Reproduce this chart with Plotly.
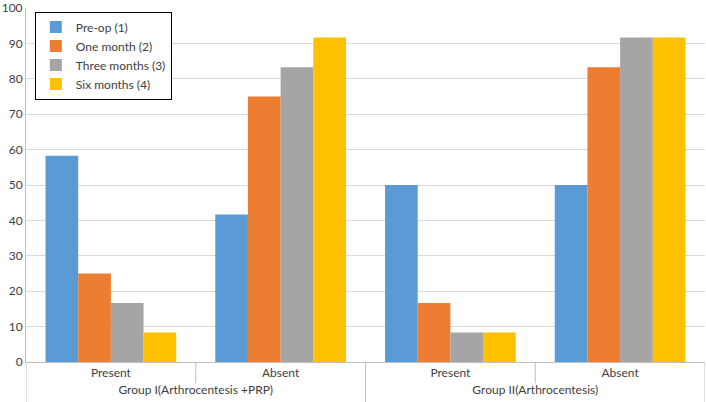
import plotly.graph_objects as go

groups = ["Group I(Arthrocentesis +PRP)", "Group I(Arthrocentesis +PRP)",
          "Group II(Arthrocentesis)", "Group II(Arthrocentesis)"]
status = ["Present", "Absent", "Present", "Absent"]

series_names = ["Pre-op (1)", "One month (2)", "Three months (3)", "Six months (4)"]
preop = [58.3, 41.7, 50.0, 50.0]
one_month = [25.0, 75.0, 16.7, 83.3]
three_months = [16.7, 83.3, 8.3, 91.7]
six_months = [8.3, 91.7, 8.3, 91.7]
colors = ["#5B9BD5", "#ED7D31", "#A5A5A5", "#FFC000"]

fig = go.Figure()
for name, vals, col in zip(series_names, [preop, one_month, three_months, six_months], colors):
    fig.add_trace(go.Bar(x=[groups, status], y=vals, name=name,
                         marker=dict(color=col, line=dict(width=0))))

grey = "#BFBFBF"
# Excel-style category dividers under the axis
for xv in [0.5, 2.5]:
    fig.add_shape(type="line", xref="x", yref="paper", x0=xv, x1=xv, y0=0, y1=-0.06,
                  line=dict(color=grey, width=1))
for xv in [-0.5, 1.5, 3.5]:
    fig.add_shape(type="line", xref="x", yref="paper", x0=xv, x1=xv, y0=0, y1=-0.12,
                  line=dict(color=grey, width=1))

fig.update_layout(
    width=706, height=402,
    margin=dict(l=26, r=1, t=8, b=40),
    paper_bgcolor="white", plot_bgcolor="white",
    font=dict(family="Lato, Liberation Sans, sans-serif", size=12, color="#404040"),
    barmode="group", bargap=0.23, bargroupgap=0,
    xaxis=dict(type="multicategory", showdividers=False, showline=True, linecolor=grey,
               linewidth=1, ticks="", tickfont=dict(size=12, color="#404040"),
               range=[-0.5, 3.5], automargin=False),
    yaxis=dict(range=[0, 100.01], tickvals=list(range(0, 101, 10)), showgrid=True,
               gridcolor="#D9D9D9", showline=True, linecolor=grey, linewidth=1,
               zeroline=False, tickfont=dict(size=12, color="#404040"), ticks="",
               automargin=False, ticklabeloverflow="allow"),
    legend=dict(x=0.013, y=0.99, xanchor="left", yanchor="top",
                bordercolor="black", borderwidth=1, bgcolor="white",
                font=dict(size=12, color="#404040"), itemwidth=30,
                tracegroupgap=0),
    showlegend=True,
)

fig.write_html("out.html", config={"displayModeBar": False},
               post_script="document.body.style.margin='0';")
